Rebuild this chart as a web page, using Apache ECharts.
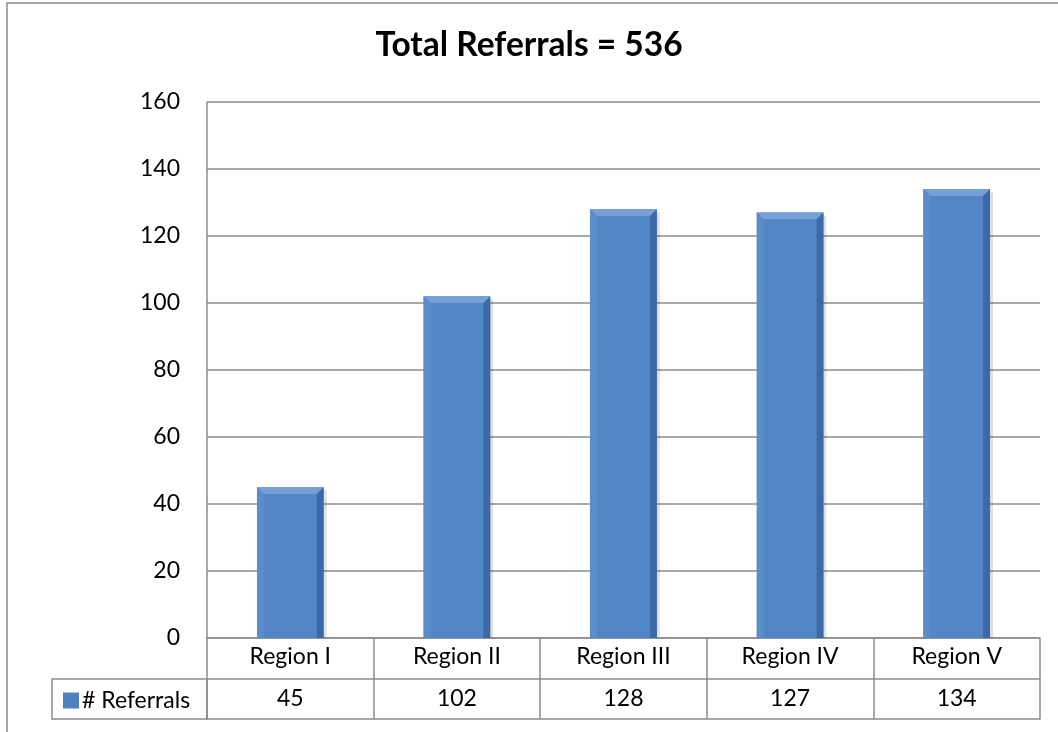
<!DOCTYPE html>
<html>
<head>
<meta charset="utf-8">
<script src="https://cdn.jsdelivr.net/npm/echarts@6/dist/echarts.min.js"></script>
<style>
  html, body { margin: 0; padding: 0; background: #fff; }
  #chart { width: 1058px; height: 732px; }
</style>
</head>
<body>
<div id="chart"></div>
<script>
// data
const regions = ['Region I', 'Region II', 'Region III', 'Region IV', 'Region V'];
const referrals = [45, 102, 128, 127, 134];
const seriesName = '# Referrals';
const titleText = 'Total Referrals = 536';

const FONT = 'Lato, "Liberation Sans", sans-serif';
const LINE = '#8c8c8c';

let myChart = echarts.init(document.getElementById('chart'));

// bevelled bar like the office chart style
function renderBar(params, api) {
  let idx = api.value(0);
  let top = api.coord([idx, api.value(1)]);
  let base = api.coord([idx, 0]);
  let w = api.size([1, 0])[0] * 0.4;
  let x0 = top[0] - w / 2, x1 = top[0] + w / 2;
  let y0 = top[1], y1 = base[1];
  let d = 7;
  return {
    type: 'group',
    children: [
      { type: 'rect', shape: { x: x0 + 3, y: y0 + 3, width: w, height: y1 - y0 - 3 },
        style: { fill: 'rgba(0,0,0,0.12)' } },
      { type: 'rect', shape: { x: x0, y: y0, width: w, height: y1 - y0 },
        style: { fill: '#4f81bd' } },
      { type: 'polygon', shape: { points: [[x0, y0], [x1, y0], [x1 - d, y0 + d], [x0 + d, y0 + d]] },
        style: { fill: '#77a0d6' } },
      { type: 'polygon', shape: { points: [[x0, y0], [x0 + d, y0 + d], [x0 + d, y1], [x0, y1]] },
        style: { fill: '#5b8dcc' } },
      { type: 'polygon', shape: { points: [[x1, y0], [x1, y1], [x1 - d, y1], [x1 - d, y0 + d]] },
        style: { fill: '#3c6aa6' } },
      { type: 'rect', shape: { x: x0 + d, y: y0 + d, width: w - 2 * d, height: y1 - y0 - d },
        style: { fill: '#5286c6' } }
    ]
  };
}

let option = {
  animation: false,
  title: {
    text: titleText,
    left: 'center',
    top: 23,
    padding: [5, 5, 5, 21],
    textStyle: { fontFamily: FONT, fontWeight: 'bold', fontSize: 33.5, color: '#000' }
  },
  legend: {
    left: 58,
    top: 684,
    itemWidth: 16,
    itemHeight: 16,
    itemGap: 4,
    data: [{ name: seriesName, icon: 'rect', itemStyle: { color: '#4f81bd' } }],
    textStyle: { fontFamily: FONT, fontSize: 23, color: '#000', padding: [0, 0, 0, -2] }
  },
  grid: { left: 207, right: 18, top: 102, bottom: 94 },
  xAxis: [
    {
      type: 'category',
      data: regions,
      position: 'bottom',
      axisLine: { show: true, lineStyle: { color: LINE, width: 1.5 } },
      axisTick: { show: true, length: 41, lineStyle: { color: LINE, width: 1.5 } },
      axisLabel: { margin: 7, fontFamily: FONT, fontSize: 23, color: '#000' }
    },
    {
      type: 'category',
      data: regions,
      position: 'bottom',
      offset: 41,
      axisLine: { show: true, lineStyle: { color: LINE, width: 1.5 } },
      axisTick: { show: true, length: 40, lineStyle: { color: LINE, width: 1.5 } },
      axisLabel: {
        margin: 8, fontFamily: FONT, fontSize: 23, color: '#000',
        formatter: (v, i) => String(referrals[i])
      }
    },
    {
      type: 'category',
      data: regions,
      position: 'bottom',
      offset: 81,
      axisLine: { show: true, lineStyle: { color: LINE, width: 1.5 } },
      axisTick: { show: false },
      axisLabel: { show: false }
    }
  ],
  yAxis: {
    type: 'value',
    min: 0,
    max: 160,
    interval: 20,
    axisLine: { show: true, lineStyle: { color: LINE, width: 1.5 } },
    axisTick: { show: false },
    axisLabel: { margin: 27, fontFamily: FONT, fontSize: 23, color: '#000' },
    splitLine: { lineStyle: { color: LINE, width: 1.5 } }
  },
  graphic: [
    { type: 'rect', shape: { x: 7, y: 3, width: 1100, height: 800 },
      style: { fill: null, stroke: LINE, lineWidth: 1.5 }, silent: true },
    { type: 'rect', shape: { x: 52, y: 679, width: 155, height: 40 },
      style: { fill: null, stroke: LINE, lineWidth: 1.5 }, silent: true }
  ],
  series: [
    {
      name: seriesName,
      type: 'custom',
      renderItem: renderBar,
      itemStyle: { color: '#4f81bd' },
      encode: { x: 0, y: 1 },
      data: referrals.map((v, i) => [i, v])
    }
  ]
};

option && myChart.setOption(option);
</script>
</body>
</html>
